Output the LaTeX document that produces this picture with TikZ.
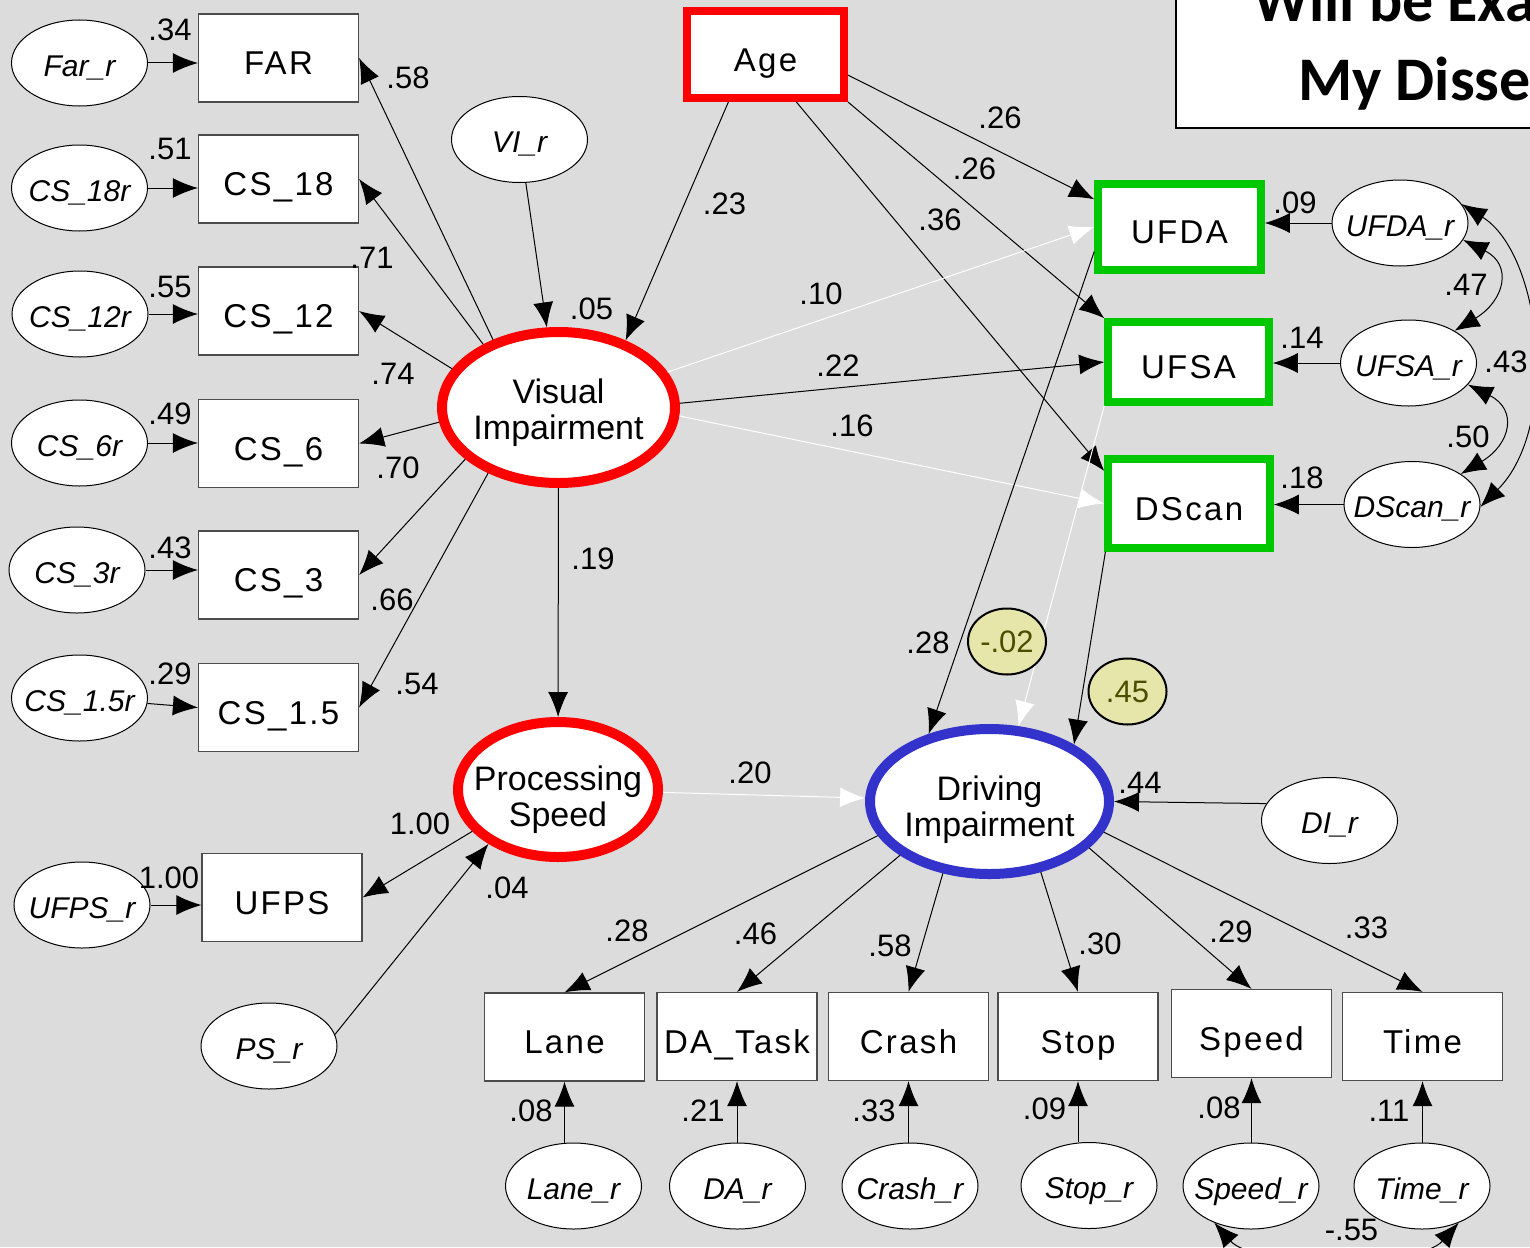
\documentclass[tikz,border=0pt]{standalone}
\usepackage{fontspec}
\setmainfont{Liberation Sans}
\newfontfamily\titlefont{Carlito}
\usetikzlibrary{arrows.meta,shapes.geometric}

\definecolor{bggray}{RGB}{220,220,220}
\definecolor{keyred}{RGB}{255,0,0}
\definecolor{ufgreen}{RGB}{0,200,0}
\definecolor{diblue}{RGB}{51,51,204}
\definecolor{estfill}{RGB}{230,230,170}
\definecolor{esttext}{RGB}{77,77,0}

\newcommand\boxfont{\fontsize{33}{38}\selectfont\addfontfeature{LetterSpace=7}}
\newcommand\resfont{\itshape\fontsize{30}{34}\selectfont}
\newcommand\numfont{\fontsize{31}{34}\selectfont}
\newcommand\latfont{\fontsize{34}{36}\selectfont}

\begin{document}
\begin{tikzpicture}[x=1pt, y=-1pt, >={Latex[length=25pt,width=20pt]},
	obs/.style={draw=black!70, line width=1.2pt, fill=white, minimum width=160pt, minimum height=88pt, inner sep=0pt, text height=33pt, text depth=0pt, font=\boxfont},
	keybox/.style={obs, line width=7.5pt, draw=#1},
	res/.style={ellipse, draw, line width=1pt, fill=white, minimum width=136pt, minimum height=86pt, inner sep=0pt, label={[font=\resfont, text height=26.4pt, text depth=0pt]center:#1}},
	lat/.style={ellipse, draw=#1, line width=10pt, fill=white, inner sep=0pt},
	num/.style={font=\numfont, inner sep=0pt},
	est/.style={ellipse, draw, line width=2pt, fill=estfill, text=esttext, minimum width=78pt, minimum height=66pt, inner sep=0pt, font=\numfont},
	arr/.style={->, line width=1pt},
	warr/.style={->, draw=white, line width=1pt},
	cov/.style={<->, line width=1pt}]
	\useasboundingbox (0,0) rectangle (1530,1247);
	\fill[bggray] (0,0) rectangle (1530,1247);
	\clip (0,0) rectangle (1530,1247);
	% title box, cut by the right edge
	\draw[fill=white, line width=2pt] (1176,-10) rectangle (1560,128);
	\node[font=\titlefont\bfseries\fontsize{62}{66}\selectfont, anchor=base west, inner sep=0pt] (ttlA) at (1253,22) {Will be Examined in};
	\node[font=\titlefont\bfseries\fontsize{62}{66}\selectfont, anchor=base west, inner sep=0pt] (ttlB) at (1298,100) {My Dissertation};
	% visual impairment and its indicators
	\node[lat=keyred, minimum width=233pt, minimum height=151pt, label={[font=\latfont, align=center, yshift=-5pt]center:Visual\\Impairment}] (VI) at (558.5,407.5) {};
	\node[obs] (FAR) at (278.5,58) {FAR};
	\node[obs] (CSa) at (278.5,179) {CS\_18};
	\node[obs] (CSb) at (278.5,311) {CS\_12};
	\node[obs] (CSc) at (278.5,443.5) {CS\_6};
	\node[obs] (CSd) at (278.5,575) {CS\_3};
	\node[obs] (CSe) at (278.5,707.5) {CS\_1.5};
	\node[res=Far\_r] (FARr) at (79.5,63) {};
	\node[res=CS\_18r] (CSar) at (79.5,188) {};
	\node[res=CS\_12r] (CSbr) at (80,314) {};
	\node[res=CS\_6r] (CScr) at (79.5,443) {};
	\node[res=CS\_3r] (CSdr) at (77,570) {};
	\node[res=CS\_1.5r] (CSer) at (79.5,698) {};
	\node[res=VI\_r] (VIr) at (519.5,139.5) {};
	% processing speed
	\node[lat=keyred, minimum width=200pt, minimum height=135pt, label={[font=\latfont, align=center, yshift=-10pt]center:Processing\\Speed}] (PS) at (558,789.5) {};
	\node[obs] (UFPS) at (282,897.5) {UFPS};
	\node[res=UFPS\_r] (UFPSr) at (82,905) {};
	\node[res=PS\_r] (PSr) at (269,1046) {};
	% age and the useful field of view tasks
	\node[keybox=keyred, line width=8pt, minimum width=157pt, minimum height=87pt] (Age) at (765.5,54.5) {Age};
	\node[keybox=ufgreen, minimum width=163pt, minimum height=86pt] (UFDA) at (1179.5,227) {UFDA};
	\node[keybox=ufgreen, minimum width=161pt, minimum height=80pt] (UFSA) at (1188.5,362) {UFSA};
	\node[keybox=ufgreen, minimum width=162pt, minimum height=89pt] (DScan) at (1189,503.5) {DScan};
	\node[res=UFDA\_r] (UFDAr) at (1400,223) {};
	\node[res=UFSA\_r] (UFSAr) at (1408.5,363) {};
	\node[res=DScan\_r] (DScanr) at (1412,504.5) {};
	% driving impairment and its indicators
	\node[lat=diblue, minimum width=239pt, minimum height=145pt, label={[font=\latfont, align=center, yshift=-8pt]center:Driving\\Impairment}] (DI) at (989.5,801.5) {};
	\node[res=DI\_r] (DIr) at (1329.5,820.5) {};
	\node[obs] (Lane) at (564.5,1037) {Lane};
	\node[obs] (DAT) at (737,1036.5) {DA\_Task};
	\node[obs] (Crash) at (908.5,1036.5) {Crash};
	\node[obs] (Stop) at (1078,1036.5) {Stop};
	\node[obs] (Speed) at (1251.5,1033.5) {Speed};
	\node[obs] (Time) at (1422.5,1036.5) {Time};
	\node[res=Lane\_r] (Laner) at (573.5,1186) {};
	\node[res=DA\_r] (DATr) at (737.5,1186) {};
	\node[res=Crash\_r] (Crashr) at (910,1186) {};
	\node[res=Stop\_r] (Stopr) at (1089,1185.5) {};
	\node[res=Speed\_r] (Speedr) at (1251,1186) {};
	\node[res=Time\_r] (Timer) at (1422,1186) {};
	% paths
	\draw[arr] (FARr.east) -- (FARr.east -| FAR.west);
	\draw[arr] (CSar.east) -- (CSar.east -| CSa.west);
	\draw[arr] (CSbr.east) -- (CSbr.east -| CSb.west);
	\draw[arr] (CScr.east) -- (CScr.east -| CSc.west);
	\draw[arr] (CSdr.east) -- (CSdr.east -| CSd.west);
	\draw[arr] (CSer) -- (CSe.west);
	\draw[arr] (VI.134) -- (FAR.east);
	\draw[arr] (VI.140) -- (CSa.east);
	\draw[arr] (VI.160) -- (CSb.east);
	\draw[arr] (VI.187) -- (CSc.east);
	\draw[arr] (VI.209) -- (CSd.east);
	\draw[arr] (VI.223) -- (CSe.east);
	\draw[arr] (VIr) -- (VI);
	\draw[arr] (Age.232) -- (VI.45);
	\draw[arr] (Age.-14) -- (UFDA.162);
	\draw[arr] (Age.south east) -- (UFSA.north west);
	\draw[arr] (Age.-57) -- (DScan.159);
	\draw[warr] (VI.18) -- (UFDA.west);
	\draw[arr] (VI.2) -- (UFSA.west);
	\draw[warr] (VI.-4) -- (DScan.west);
	\draw[arr] (VI) -- (PS);
	\draw[warr] (PS) -- (DI);
	\draw[arr] (PS.206) -- (UFPS.east);
	\draw[arr] (PSr.10) -- (PS.218);
	\draw[arr] (UFPSr.east) -- (UFPSr.east -| UFPS.west);
	\draw[arr] (UFDAr.west) -- (UFDAr.west -| UFDA.east);
	\draw[arr] (UFSAr.west) -- (UFSAr.west -| UFSA.east);
	\draw[arr] (DScanr.west) -- (DScanr.west -| DScan.east);
	\draw[arr] (UFDA.196) -- (DI.132);
	\draw[warr] (UFSA.south west) -- (DI.69);
	\draw[arr] (DScan.210) -- (DI.34);
	\draw[arr] (DIr.165) -- (DI.east);
	\draw[arr] (DI.197) -- (Lane.north);
	\draw[arr] (DI.211) -- (DAT.north);
	\draw[arr] (DI.237) -- (Crash.north);
	\draw[arr] (DI.306) -- (Stop.north);
	\draw[arr] (DI.335) -- (Speed.north);
	\draw[arr] (DI.345) -- (Time.north);
	\draw[arr] (Lane.south |- Laner.north) -- (Lane.south);
	\draw[arr] (DAT.south |- DATr.north) -- (DAT.south);
	\draw[arr] (Crash.south |- Crashr.north) -- (Crash.south);
	\draw[arr] (Stop.south |- Stopr.north) -- (Stop.south);
	\draw[arr] (Speed.south |- Speedr.north) -- (Speed.south);
	\draw[arr] (Time.south |- Timer.north) -- (Time.south);
	% covariances
	\draw[cov] (UFDAr.-15) .. controls +(50,25) and +(50,-30) .. (UFSAr.35);
	\draw[cov] (UFSAr.-20) .. controls +(50,25) and +(50,-30) .. (DScanr.32);
	\draw[cov] (UFDAr.17) .. controls +(80,50) and +(80,-80) .. (DScanr.-2);
	\draw[cov] (Speedr.225) .. controls +(40,45) and +(-40,45) .. (Timer.315);
	% estimates
	\node[est] (eUFSA) at (1007,641.5) {-.02};
	\node[est] (eDScan) at (1127.5,691.5) {.45};
	\node[num] (wFARr) at (170,30) {.34};
	\node[num] (wCSar) at (170,149) {.51};
	\node[num] (wCSbr) at (170,287) {.55};
	\node[num] (wCScr) at (170,414) {.49};
	\node[num] (wCSdr) at (170,548) {.43};
	\node[num] (wCSer) at (170,674) {.29};
	\node[num] (wFAR) at (408,77.5) {.58};
	\node[num] (wCSa) at (372,258) {.71};
	\node[num] (wCSb) at (393,374) {.74};
	\node[num] (wCSc) at (398,468) {.70};
	\node[num] (wCSd) at (392,600) {.66};
	\node[num] (wCSe) at (417,684) {.54};
	\node[num] (wVI) at (591.5,309) {.05};
	\node[num] (wAgeVI) at (724.5,204) {.23};
	\node[num] (wAgeDA) at (1000,118) {.26};
	\node[num] (wAgeSA) at (974.5,168.5) {.26};
	\node[num] (wAgeDS) at (940,220) {.36};
	\node[num] (wVIDA) at (821,294) {.10};
	\node[num] (wVISA) at (838,366) {.22};
	\node[num] (wVIDS) at (852,426) {.16};
	\node[num] (wVIPS) at (593,559) {.19};
	\node[num] (wDADI) at (928,642.5) {.28};
	\node[num] (wPSDI) at (750,772.5) {.20};
	\node[num] (wPS) at (420,824) {1.00};
	\node[num] (wUFPSr) at (169,878) {1.00};
	\node[num] (wPSr) at (507,888) {.04};
	\node[num] (wUFDAr) at (1295,203) {.09};
	\node[num] (wUFSAr) at (1302,337.5) {.14};
	\node[num] (wDScanr) at (1302,478) {.18};
	\node[num] (cDASA) at (1466,285) {.47};
	\node[num] (cDADS) at (1506,362) {.43};
	\node[num] (cSADS) at (1468,436.5) {.50};
	\node[num] (wDI) at (1140,782.5) {.44};
	\node[num] (wLane) at (627,930.5) {.28};
	\node[num] (wDAT) at (755.5,934) {.46};
	\node[num] (wCrash) at (890,946) {.58};
	\node[num] (wStop) at (1100,944) {.30};
	\node[num] (wSpeed) at (1231,932) {.29};
	\node[num] (wTime) at (1366.5,928) {.33};
	\node[num] (wLaner) at (531,1111) {.08};
	\node[num] (wDATr) at (703,1111) {.21};
	\node[num] (wCrashr) at (874,1111) {.33};
	\node[num] (wStopr) at (1044.5,1109) {.09};
	\node[num] (wSpeedr) at (1219,1108) {.08};
	\node[num] (wTimer) at (1389,1110.5) {.11};
	\node[num] (cST) at (1351.5,1230) {-.55};
\end{tikzpicture}
\end{document}
